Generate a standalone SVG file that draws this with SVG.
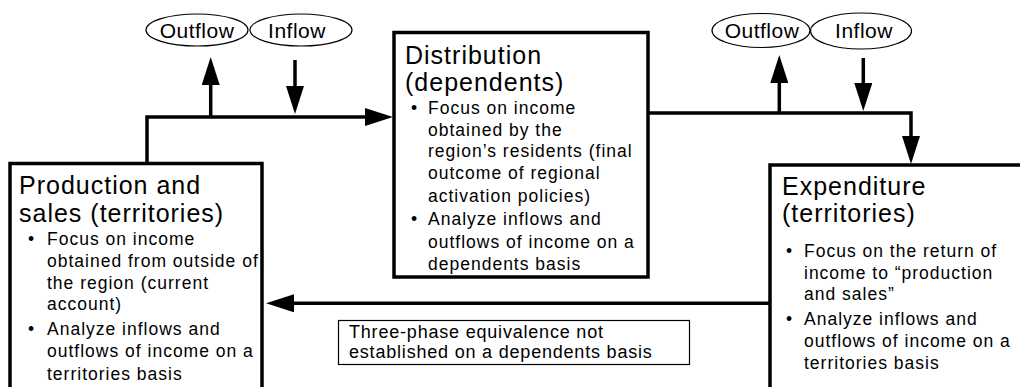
<svg xmlns="http://www.w3.org/2000/svg" width="1020" height="387" viewBox="0 0 1020 387">
<style>
text{font-family:"Liberation Sans",Arial,sans-serif;fill:#000}
.title{font-size:25px;letter-spacing:1px}
.body{font-size:17.5px;letter-spacing:1px}
.oval{font-size:21px;letter-spacing:0.5px;text-anchor:middle}
.note{font-size:18px;letter-spacing:0.8px}
.box{fill:#fff;stroke:#000;stroke-width:3.5}
.ell{fill:#fff;stroke:#000;stroke-width:1.2}
.conn{fill:none;stroke:#000;stroke-width:3.5}
</style>
<defs>
<marker id="ah" markerUnits="userSpaceOnUse" markerWidth="28" markerHeight="18" viewBox="0 0 28 18" refX="2" refY="9" orient="auto">
<path d="M0,0 L28,9 L0,18 z" fill="#000"/>
</marker>
</defs>
<g id="connectors">
<path class="conn" d="M147,165 V117 H367" marker-end="url(#ah)"/>
<path class="conn" d="M210.7,117 V83" marker-end="url(#ah)"/>
<path class="conn" d="M295,60 V88" marker-end="url(#ah)"/>
<path class="conn" d="M646,113 H911 V138" marker-end="url(#ah)"/>
<path class="conn" d="M779.3,113 V81" marker-end="url(#ah)"/>
<path class="conn" d="M863.3,58 V85" marker-end="url(#ah)"/>
<path class="conn" d="M772,303.3 H292" marker-end="url(#ah)"/>
</g>
<g id="outflow-left">
<ellipse class="ell" cx="197" cy="30" rx="51" ry="16"/>
<text class="oval" x="197" y="38">Outflow</text>
</g>
<g id="inflow-left">
<ellipse class="ell" cx="301" cy="30" rx="51" ry="16"/>
<text class="oval" x="297" y="38">Inflow</text>
</g>
<g id="outflow-right">
<ellipse class="ell" cx="761" cy="30.5" rx="49" ry="17"/>
<text class="oval" x="762" y="37.5">Outflow</text>
</g>
<g id="inflow-right">
<ellipse class="ell" cx="861" cy="31" rx="50.5" ry="18"/>
<text class="oval" x="864" y="37.5">Inflow</text>
</g>
<g id="production">
<rect class="box" x="10" y="163.5" width="252" height="240"/>
<text class="title" x="19" y="194">Production and</text>
<text class="title" x="19" y="222">sales (territories)</text>
<text class="body" x="28" y="245">•</text>
<text class="body" x="47" y="245">Focus on income</text>
<text class="body" x="47" y="267">obtained from outside of</text>
<text class="body" x="47" y="288.5">the region (current</text>
<text class="body" x="47" y="310">account)</text>
<text class="body" x="28" y="334.5">•</text>
<text class="body" x="47" y="334.5">Analyze inflows and</text>
<text class="body" x="47" y="356.5">outflows of income on a</text>
<text class="body" x="47" y="380">territories basis</text>
</g>
<g id="distribution">
<rect class="box" x="394" y="32.5" width="254" height="244.5"/>
<text class="title" x="405" y="64">Distribution</text>
<text class="title" x="405" y="91">(dependents)</text>
<text class="body" x="411" y="114">•</text>
<text class="body" x="428" y="114">Focus on income</text>
<text class="body" x="428" y="135.5">obtained by the</text>
<text class="body" x="428" y="157">region’s residents (final</text>
<text class="body" x="428" y="179">outcome of regional</text>
<text class="body" x="428" y="201.5">activation policies)</text>
<text class="body" x="411" y="225">•</text>
<text class="body" x="428" y="225">Analyze inflows and</text>
<text class="body" x="428" y="248">outflows of income on a</text>
<text class="body" x="428" y="270">dependents basis</text>
</g>
<g id="expenditure">
<rect class="box" x="770" y="165" width="260" height="240"/>
<text class="title" x="782" y="195">Expenditure</text>
<text class="title" x="782" y="222">(territories)</text>
<text class="body" x="786" y="257">•</text>
<text class="body" x="804" y="257">Focus on the return of</text>
<text class="body" x="804" y="278.5">income to “production</text>
<text class="body" x="804" y="300">and sales”</text>
<text class="body" x="786" y="325">•</text>
<text class="body" x="804" y="325">Analyze inflows and</text>
<text class="body" x="804" y="347">outflows of income on a</text>
<text class="body" x="804" y="368.5">territories basis</text>
</g>
<g id="note">
<rect x="338.5" y="320.5" width="351" height="44" fill="#fff" stroke="#000" stroke-width="1.2"/>
<text class="note" x="349" y="338">Three-phase equivalence not</text>
<text class="note" x="349" y="358">established on a dependents basis</text>
</g>
</svg>
